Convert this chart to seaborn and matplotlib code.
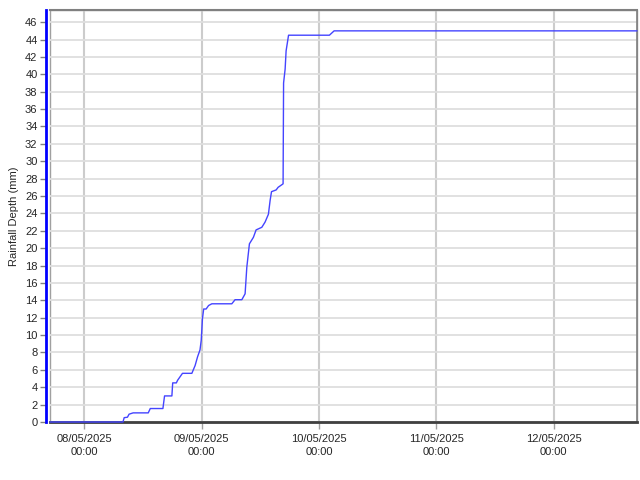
import pandas as pd
import numpy as np
import matplotlib
matplotlib.use("Agg")
import matplotlib.pyplot as plt
import matplotlib.dates as mdates
import seaborn as sns

# cumulative rainfall readings
times = ["2025-05-07 17:00", "2025-05-08 07:55", "2025-05-08 08:10", "2025-05-08 08:50",
         "2025-05-08 09:10", "2025-05-08 10:00", "2025-05-08 13:05", "2025-05-08 13:30",
         "2025-05-08 16:05", "2025-05-08 16:25", "2025-05-08 17:55", "2025-05-08 18:05",
         "2025-05-08 18:50", "2025-05-08 19:05", "2025-05-08 20:05", "2025-05-08 22:00",
         "2025-05-08 22:40", "2025-05-08 23:10", "2025-05-08 23:40", "2025-05-08 23:55",
         "2025-05-09 00:10", "2025-05-09 00:25", "2025-05-09 00:55", "2025-05-09 01:25",
         "2025-05-09 02:05", "2025-05-09 06:10", "2025-05-09 06:50", "2025-05-09 08:13",
         "2025-05-09 08:53", "2025-05-09 09:14", "2025-05-09 09:46", "2025-05-09 10:35",
         "2025-05-09 11:08", "2025-05-09 12:18", "2025-05-09 12:58", "2025-05-09 13:39",
         "2025-05-09 14:00", "2025-05-09 14:17", "2025-05-09 15:14", "2025-05-09 15:38",
         "2025-05-09 16:39", "2025-05-09 16:45", "2025-05-09 17:04", "2025-05-09 17:16",
         "2025-05-09 17:46", "2025-05-10 02:07", "2025-05-10 03:05", "2025-05-12 17:00"]
depth = [0, 0, 0.5, 0.55,
         0.9, 1.05, 1.05, 1.55,
         1.55, 3.0, 3.0, 4.5,
         4.5, 4.8, 5.6, 5.6,
         6.5, 7.5, 8.3, 9.4,
         11.9, 13.0, 13.0, 13.4,
         13.6, 13.6, 14.07, 14.07,
         14.75, 17.8, 20.5, 21.25,
         22.1, 22.4, 23.0, 23.9,
         25.5, 26.5, 26.7, 27.0,
         27.4, 39.0, 40.6, 42.7,
         44.5, 44.5, 45.0, 45.0]
x_ticks = ["2025-05-08", "2025-05-09", "2025-05-10", "2025-05-11", "2025-05-12"]
y_ticks = list(range(0, 48, 2))

df = pd.DataFrame({"time": pd.to_datetime(times), "depth": depth})

sns.set_style("white")
plt.rcParams["font.family"] = ["Liberation Sans", "DejaVu Sans"]

fig = plt.figure(figsize=(6.4, 4.8), dpi=100)
ax = fig.add_axes([50/640, 1-422/480, 587/640, 412/480])

sns.lineplot(data=df, x="time", y="depth", ax=ax, color="#4444ff", linewidth=1,
             estimator=None, zorder=3, clip_on=False)

ax.set_xlim(pd.Timestamp("2025-05-07 17:00"), pd.Timestamp("2025-05-12 17:00"))
ax.set_ylim(0, 47.4)
ax.set_xticks(pd.to_datetime(x_ticks))
ax.xaxis.set_major_formatter(mdates.DateFormatter("%d/%m/%Y\n%H:%M"))
ax.set_yticks(y_ticks)

ax.grid(axis="y", color="#dedede", linewidth=1.3)
ax.grid(axis="x", color="#cccccc", linewidth=1.5)
ax.set_axisbelow(True)

ax.spines["left"].set_position(("outward", 3))
ax.spines["left"].set_color("blue")
ax.spines["left"].set_linewidth(2)
ax.spines["top"].set_color("#808080")
ax.spines["top"].set_linewidth(1.5)
ax.spines["right"].set_color("#808080")
ax.spines["right"].set_linewidth(1.2)
ax.spines["bottom"].set_color("#404040")
ax.spines["bottom"].set_linewidth(2)
ax.patch.set_edgecolor("#a0a0a0")
ax.patch.set_linewidth(1)

ax.tick_params(axis="y", length=4, width=1, color="#808080", labelsize=8, pad=2, left=True)
ax.tick_params(axis="x", length=5, width=1, color="#a0a0a0", labelsize=8, pad=4, bottom=True)
for lab in ax.get_xticklabels():
    lab.set_linespacing(1.35)

ax.set_xlabel("")
ax.set_ylabel("Rainfall Depth (mm)", fontsize=8, labelpad=4)

fig.savefig("out.png", dpi=100)
